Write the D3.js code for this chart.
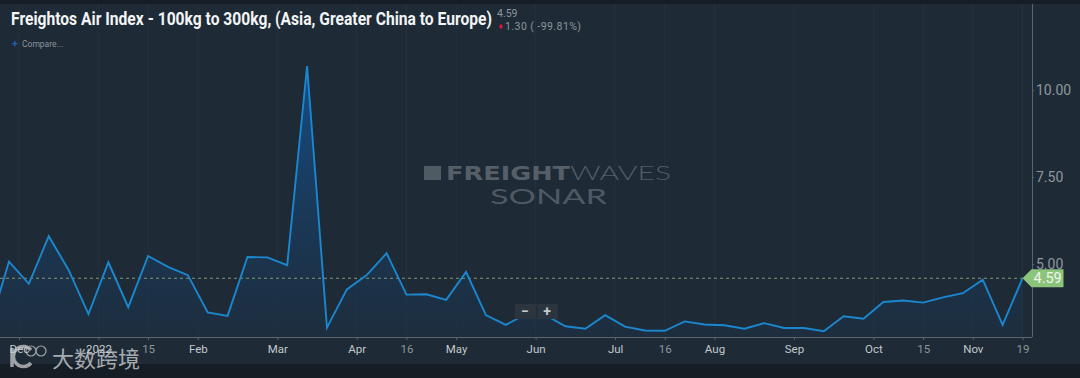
<!DOCTYPE html>
<html>
<head>
<meta charset="utf-8">
<script src="https://cdn.jsdelivr.net/npm/d3@7"></script>
<style>
    html, body { margin: 0; padding: 0; background: #1e2a36; }
    svg { display: block; font-family: Roboto, sans-serif; }
    .x-axis text { font-size: 11.5px; fill: #c3c8cc; }
    .x-axis text.minor { fill: #8d959b; }
    .y-axis text { font-size: 14px; fill: #8f979d; }
    .x-axis path, .x-axis line, .y-axis path, .y-axis line { stroke: #5b656d; }
</style>
</head>
<body>
<div id="chart"></div>
<script>
// weekly rate, first point sits just off the left edge
const weeks = d3.range(-1, 52);
const values = [3.16, 5.07, 4.43, 5.80, 4.83, 3.56, 5.05, 3.76, 5.23, 4.92, 4.68, 3.61, 3.51, 5.20, 5.19, 4.97,
    10.69, 3.17, 4.27, 4.68, 5.31, 4.12, 4.13, 3.97, 4.77, 3.53, 3.25, 3.56, 3.53, 3.21, 3.14, 3.53, 3.20, 3.09,
    3.08, 3.35, 3.26, 3.24, 3.14, 3.30, 3.16, 3.16, 3.07, 3.50, 3.43, 3.91, 3.95, 3.89, 4.04, 4.16, 4.55, 3.25, 4.59];

// tick positions are in week units, the platform puts them between points
const xTickWeeks = [0.5, 4.5, 7, 9.5, 13.5, 17.5, 20, 22.5, 26.5, 30.5, 33, 35.5, 39.5, 43.5, 46, 48.5, 51];
const xTickLabels = ["Dec", "2022", "15", "Feb", "Mar", "Apr", "16", "May", "Jun", "Jul", "16", "Aug", "Sep", "Oct", "15", "Nov", "19"];
const minorLabels = ["15", "16", "19"];
const yTicks = [5, 7.5, 10];
const lastValue = 4.59;

const width = 1080;
const height = 378;
const plotRight = 1032;
const plotBottom = 337;

const xScale = d3.scaleLinear().domain([0, 51]).range([9, 1022.5]);
const yScale = d3.scaleLinear().domain([5, 10]).range([264, 90]);

const svg = d3.select("#chart").append("svg").attr("width", width).attr("height", height);

svg.append("rect").attr("width", width).attr("height", height).attr("fill", "#1e2a36");
svg.append("rect").attr("width", width).attr("height", 4).attr("fill", "#151e26");
svg.append("rect").attr("y", 364).attr("width", width).attr("height", 14).attr("fill", "#151d25");

const defs = svg.append("defs");
const grad = defs.append("linearGradient").attr("id", "areaFill")
    .attr("gradientUnits", "userSpaceOnUse")
    .attr("x1", 0).attr("x2", 0).attr("y1", 66).attr("y2", plotBottom);
grad.append("stop").attr("offset", 0).attr("stop-color", "#14508c").attr("stop-opacity", 0.95);
grad.append("stop").attr("offset", 1).attr("stop-color", "#1c3147").attr("stop-opacity", 0.5);
defs.append("clipPath").attr("id", "plotClip").append("rect")
    .attr("x", 0).attr("y", 4).attr("width", plotRight).attr("height", plotBottom - 4);

// Gridlines
svg.append("g").selectAll("line").data(xTickWeeks).enter().append("line")
    .attr("x1", d => xScale(d)).attr("x2", d => xScale(d))
    .attr("y1", 4).attr("y2", plotBottom)
    .attr("stroke", "#25323d").attr("stroke-width", 1);

// Watermark
const mark = svg.append("g");
mark.append("rect").attr("x", 424).attr("y", 166).attr("width", 17).attr("height", 14).attr("fill", "#505a63");
mark.append("text").attr("x", 446).attr("y", 180)
    .attr("font-family", "'DejaVu Sans', sans-serif").attr("font-weight", 700).attr("font-size", 19)
    .attr("textLength", 124).attr("lengthAdjust", "spacingAndGlyphs")
    .attr("fill", "#565f68").text("FREIGHT");
mark.append("text").attr("x", 570).attr("y", 180)
    .attr("font-family", "Lato, sans-serif").attr("font-weight", 300).attr("font-size", 20)
    .attr("textLength", 101).attr("lengthAdjust", "spacingAndGlyphs")
    .attr("fill", "#535d66").text("WAVES");
mark.append("text").attr("x", 490).attr("y", 204)
    .attr("font-family", "Lato, sans-serif").attr("font-weight", 400).attr("font-size", 22)
    .attr("textLength", 117).attr("lengthAdjust", "spacingAndGlyphs")
    .attr("fill", "#4f5963").text("SONAR");

// Series
const area = d3.area().x(d => xScale(d[0])).y0(plotBottom).y1(d => yScale(d[1]));
const line = d3.line().x(d => xScale(d[0])).y(d => yScale(d[1]));
const points = weeks.map((w, i) => [w, values[i]]);

svg.append("path").datum(points).attr("d", area).attr("fill", "url(#areaFill)").attr("clip-path", "url(#plotClip)");

svg.append("line").attr("x1", 0).attr("x2", xScale(51))
    .attr("y1", yScale(lastValue)).attr("y2", yScale(lastValue))
    .attr("stroke", "#7f9a72").attr("stroke-width", 1).attr("stroke-dasharray", "3,3");

svg.append("path").datum(points).attr("d", line).attr("fill", "none")
    .attr("stroke", "#1b87cf").attr("stroke-width", 1.9).attr("stroke-linejoin", "miter")
    .attr("clip-path", "url(#plotClip)");

// Axes
const xAxis = d3.axisBottom(xScale).tickValues(xTickWeeks).tickSize(3).tickPadding(5)
    .tickFormat((d, i) => xTickLabels[i]);
const xG = svg.append("g").attr("class", "x-axis")
    .attr("transform", `translate(0, ${plotBottom})`).call(xAxis);
xG.select(".domain").attr("d", `M0,0.5H${plotRight}`);
xG.selectAll("text").classed("minor", (d, i) => minorLabels.includes(xTickLabels[i]))
    .attr("font-family", "Roboto, sans-serif");

const yAxis = d3.axisRight(yScale).tickValues(yTicks).tickSize(2).tickPadding(2).tickFormat(d3.format(".2f"));
const yG = svg.append("g").attr("class", "y-axis")
    .attr("transform", `translate(${plotRight}, 0)`).call(yAxis);
yG.select(".domain").attr("d", `M0.5,4V${plotBottom}`);
yG.selectAll("text").attr("font-family", "Roboto, sans-serif");

// Last value tag
const tagY = yScale(lastValue);
const tag = svg.append("g").attr("transform", `translate(${xScale(51)}, ${tagY})`);
tag.append("path").attr("d", "M0,0L9,-9H41V9H9Z").attr("fill", "#8cc47c");
tag.append("text").attr("x", 11).attr("y", 5).attr("font-size", 14.5).attr("fill", "#eef5ea").text("4.59");

// Zoom control
const zoomBox = svg.append("g");
zoomBox.append("rect").attr("x", 515).attr("y", 304).attr("width", 43).attr("height", 15).attr("fill", "#2a353f");
zoomBox.append("line").attr("x1", 537).attr("x2", 537).attr("y1", 305).attr("y2", 318).attr("stroke", "#1e2a36");
zoomBox.append("text").attr("x", 525).attr("y", 316).attr("text-anchor", "middle").attr("font-size", 14).attr("font-weight", 700).attr("fill", "#c5c9cc").text("−");
zoomBox.append("text").attr("x", 547).attr("y", 316).attr("text-anchor", "middle").attr("font-size", 14).attr("font-weight", 700).attr("fill", "#c5c9cc").text("+");

// Header
svg.append("text").attr("x", 11).attr("y", 25)
    .attr("font-weight", 700).attr("font-size", 18)
    .attr("textLength", 481).attr("lengthAdjust", "spacingAndGlyphs")
    .attr("fill", "#f2f4f5").text("Freightos Air Index - 100kg to 300kg, (Asia, Greater China to Europe)");
svg.append("text").attr("x", 497).attr("y", 17).attr("font-size", 10.5).attr("fill", "#8d959b").text("4.59");
svg.append("path").attr("d", "M501,23.5L503,26.5L501,29.5L499,26.5Z").attr("fill", "#d8153c");
svg.append("text").attr("x", 505).attr("y", 30).attr("font-size", 10.5)
    .attr("textLength", 76).attr("fill", "#8d959b").text("1.30 ( -99.81%)");
svg.append("text").attr("x", 12).attr("y", 47).attr("font-size", 11).attr("font-weight", 700).attr("fill", "#1f5fb0").text("+");
svg.append("text").attr("x", 22).attr("y", 47).attr("font-size", 8.5).attr("fill", "#8d959b").text("Compare...");

// Site stamp, bottom left
const stamp = svg.append("g").attr("fill", "none").attr("stroke", "#c9ccce").attr("opacity", 0.75);
stamp.append("path").attr("d", "M12,348V367").attr("stroke-width", 3.5);
stamp.append("path").attr("d", "M31,363A10,10 0 1 1 31,350").attr("stroke-width", 3.5);
stamp.append("circle").attr("cx", 31).attr("cy", 351).attr("r", 5).attr("stroke-width", 1.2);
stamp.append("circle").attr("cx", 41).attr("cy", 351).attr("r", 5).attr("stroke-width", 1.2);
svg.append("text").attr("x", 52).attr("y", 367)
    .attr("font-family", "'Noto Sans CJK SC', sans-serif").attr("font-size", 22)
    .attr("fill", "#c9ccce").attr("opacity", 0.8).text("大数跨境");
</script>
</body>
</html>
